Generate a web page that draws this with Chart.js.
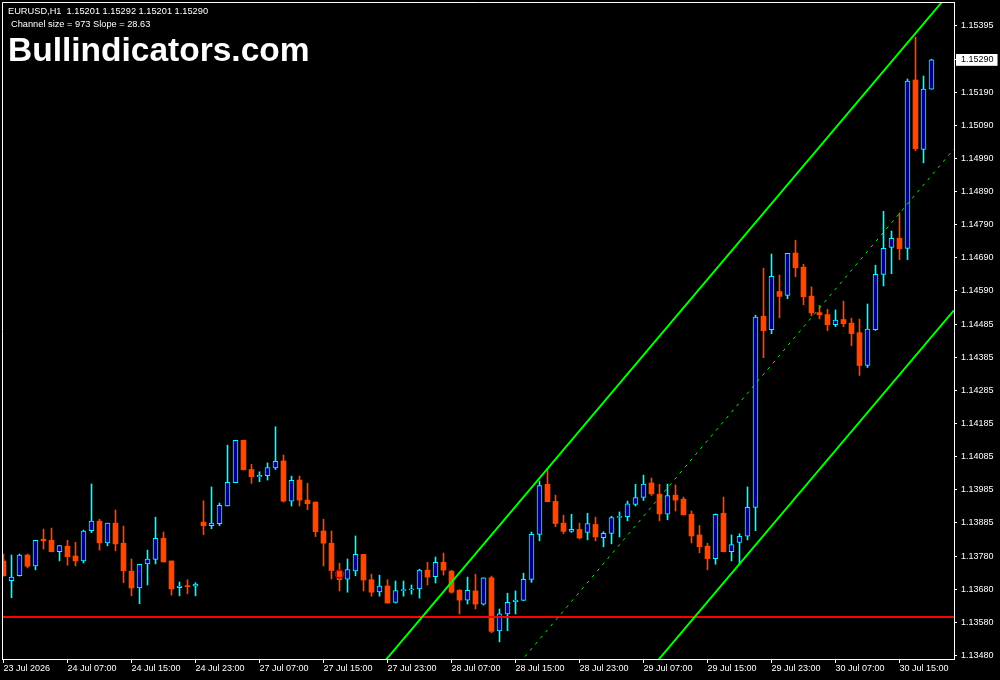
<!DOCTYPE html>
<html>
<head>
<meta charset="utf-8">
<script src="https://cdn.jsdelivr.net/npm/chart.js@4.4.1/dist/chart.umd.min.js"></script>
<style>
html,body{margin:0;padding:0;background:#000;overflow:hidden}
canvas{display:block}
</style>
</head>
<body>
<canvas id="c" width="1000" height="680"></canvas>
<script>
// ---- texts ----
const symbolInfo = "EURUSD,H1  1.15201 1.15292 1.15201 1.15290";
const channelInfo = "Channel size = 973 Slope = 28.63";
const watermark = "Bullindicators.com";

// ---- candles (H1 bars, index 0 = 23 Jul 23:00) ----
const opens = [
1.13767,1.13707,1.13722,1.13785,1.13752,1.13833,1.13830,1.13795,1.13812,1.13782,
1.13767,1.13859,1.13888,1.13822,1.13882,1.13821,1.13736,1.13685,1.13758,1.13772,
1.13836,1.13767,1.13686,1.13692,1.13690,1.13885,1.13874,1.13880,1.13934,1.14005,
1.14134,1.14045,1.14023,1.14026,1.14050,1.14071,1.13949,1.14013,1.13952,1.13946,
1.13858,1.13821,1.13737,1.13712,1.13737,1.13787,1.13710,1.13673,1.13691,1.13641,
1.13677,1.13679,1.13682,1.13739,1.13719,1.13763,1.13736,1.13678,1.13648,1.13676,
1.13636,1.13716,1.13554,1.13606,1.13643,1.13647,1.13711,1.13848,1.14000,1.13948,
1.13882,1.13857,1.13863,1.13854,1.13878,1.13838,1.13851,1.13899,1.13902,1.13939,
1.13960,1.14004,1.13970,1.13909,1.13967,1.13955,1.13909,1.13846,1.13812,1.13774,
1.13912,1.13795,1.13823,1.13842,1.13930,1.14511,1.14470,1.14586,1.14574,1.14703,
1.14660,1.14572,1.14522,1.14516,1.14485,1.14501,1.14490,1.14461,1.14361,1.14470,
1.14638,1.14720,1.14748,1.14717,1.15229,1.15018,1.15201
];
const highs = [
1.13788,1.13785,1.13788,1.13788,1.13830,1.13864,1.13867,1.13814,1.13830,1.13824,
1.13861,1.14001,1.13894,1.13882,1.13922,1.13873,1.13773,1.13757,1.13800,1.13900,
1.13855,1.13767,1.13703,1.13710,1.13701,1.13950,1.13992,1.13943,1.14119,1.14134,
1.14134,1.14061,1.14038,1.14065,1.14175,1.14089,1.14025,1.14025,1.14003,1.13946,
1.13894,1.13858,1.13760,1.13773,1.13843,1.13787,1.13727,1.13724,1.13710,1.13706,
1.13706,1.13694,1.13742,1.13763,1.13779,1.13791,1.13739,1.13680,1.13718,1.13727,
1.13716,1.13721,1.13621,1.13669,1.13676,1.13730,1.13855,1.14010,1.14044,1.13967,
1.13906,1.13909,1.13882,1.13912,1.13900,1.13856,1.13903,1.13916,1.13949,1.14000,
1.14028,1.14019,1.14000,1.14001,1.13998,1.13961,1.13919,1.13875,1.13821,1.13910,
1.13961,1.13846,1.13850,1.13992,1.14514,1.14657,1.14700,1.14636,1.14702,1.14742,
1.14669,1.14600,1.14544,1.14532,1.14530,1.14557,1.14505,1.14502,1.14548,1.14666,
1.14830,1.14770,1.14825,1.15232,1.15360,1.15241,1.15292
];
const lows = [
1.13721,1.13655,1.13721,1.13746,1.13740,1.13803,1.13795,1.13767,1.13754,1.13752,
1.13761,1.13853,1.13800,1.13813,1.13798,1.13701,1.13661,1.13637,1.13694,1.13758,
1.13764,1.13663,1.13661,1.13667,1.13661,1.13847,1.13865,1.13874,1.13934,1.14005,
1.14044,1.14003,1.14008,1.14013,1.14045,1.13946,1.13934,1.13934,1.13923,1.13841,
1.13752,1.13712,1.13676,1.13672,1.13722,1.13676,1.13660,1.13660,1.13639,1.13639,
1.13660,1.13666,1.13654,1.13694,1.13700,1.13724,1.13669,1.13606,1.13636,1.13621,
1.13633,1.13549,1.13521,1.13555,1.13606,1.13647,1.13702,1.13828,1.13947,1.13871,
1.13850,1.13854,1.13834,1.13831,1.13828,1.13810,1.13819,1.13840,1.13889,1.13934,
1.13951,1.13966,1.13889,1.13892,1.13919,1.13907,1.13822,1.13792,1.13740,1.13757,
1.13795,1.13767,1.13757,1.13831,1.13859,1.14385,1.14458,1.14506,1.14564,1.14631,
1.14546,1.14512,1.14503,1.14467,1.14479,1.14479,1.14421,1.14331,1.14355,1.14468,
1.14603,1.14640,1.14683,1.14683,1.15014,1.14977,1.15201
];
const closes = [
1.13722,1.13718,1.13785,1.13751,1.13830,1.13828,1.13795,1.13814,1.13780,1.13767,
1.13858,1.13888,1.13822,1.13882,1.13819,1.13737,1.13685,1.13757,1.13773,1.13836,
1.13764,1.13682,1.13691,1.13689,1.13697,1.13874,1.13882,1.13936,1.14006,1.14134,
1.14044,1.14023,1.14027,1.14051,1.14070,1.13949,1.14012,1.13952,1.13941,1.13856,
1.13821,1.13738,1.13710,1.13741,1.13787,1.13709,1.13672,1.13691,1.13639,1.13677,
1.13680,1.13682,1.13739,1.13718,1.13763,1.13739,1.13672,1.13648,1.13678,1.13636,
1.13716,1.13553,1.13606,1.13641,1.13648,1.13711,1.13848,1.13996,1.13947,1.13881,
1.13857,1.13863,1.13837,1.13881,1.13840,1.13851,1.13899,1.13903,1.13941,1.13960,
1.14001,1.13971,1.13910,1.13966,1.13952,1.13907,1.13843,1.13810,1.13774,1.13909,
1.13795,1.13817,1.13842,1.13930,1.14508,1.14467,1.14632,1.14571,1.14702,1.14658,
1.14570,1.14521,1.14515,1.14485,1.14499,1.14488,1.14458,1.14361,1.14472,1.14638,
1.14717,1.14748,1.14716,1.15226,1.15020,1.15201,1.15290
];

// ---- axes ----
const xTickBars = [0,8,16,24,32,40,48,56,64,72,80,88,96,104,112];
const xTickLabels = ["23 Jul 2026","24 Jul 07:00","24 Jul 15:00","24 Jul 23:00","27 Jul 07:00",
  "27 Jul 15:00","27 Jul 23:00","28 Jul 07:00","28 Jul 15:00","28 Jul 23:00","29 Jul 07:00",
  "29 Jul 15:00","29 Jul 23:00","30 Jul 07:00","30 Jul 15:00"];
const yTickValues = [1.15395,1.15290,1.15190,1.15090,1.14990,1.14890,1.14790,1.14690,1.14590,1.14485,
  1.14385,1.14285,1.14185,1.14085,1.13985,1.13885,1.13780,1.13680,1.13580,1.13480];
const yTickLabels = ["1.15395","1.15290","1.15190","1.15090","1.14990","1.14890","1.14790","1.14690","1.14590","1.14485",
  "1.14385","1.14285","1.14185","1.14085","1.13985","1.13885","1.13780","1.13680","1.13580","1.13480"];
const xRange = [-0.0625, 118.8125];
const yRange = [1.13469, 1.15463];
const lastPrice = 1.15290;

// ---- objects ----
const supportLevel = 1.13597;
const channelBars = [40, 118.8];
const channelUpper = [1.13242, 1.15509];
const channelMiddle = [1.12752, 1.15019];
const channelLower = [1.12262, 1.14529];
const markerBars = [42];
const markerPrices = [1.13727];

// ---- colours ----
const BULL_FILL = '#00008b', BULL_LINE = '#00ffff', BEAR = '#ff4500';
const isBull = i => closes[i] >= opens[i];

const bodyData = opens.map((o, i) => ({x: i, y: [o, closes[i]]}));
const wickData = lows.map((l, i) => ({x: i, y: [l, highs[i]]}));
const pairs = (xs, ys) => xs.map((x, i) => ({x, y: ys[i]}));

const FONT = '"Liberation Sans", Arial, sans-serif';

const frameAndText = {
  id: 'frameAndText',
  afterDraw(chart) {
    const ctx = chart.ctx, a = chart.chartArea;
    ctx.save();
    ctx.strokeStyle = '#ffffff';
    ctx.lineWidth = 1;
    ctx.beginPath();
    ctx.moveTo(a.left - 0.5, a.bottom + 1);
    ctx.lineTo(a.left - 0.5, a.top - 0.5);
    ctx.lineTo(a.right + 1, a.top - 0.5);
    ctx.stroke();
    ctx.fillStyle = '#ffffff';
    ctx.textBaseline = 'alphabetic';
    ctx.font = '9.25px ' + FONT;
    ctx.fillText(symbolInfo, 8, 14);
    ctx.fillText(channelInfo, 11, 27);
    ctx.font = 'bold 33.5px ' + FONT;
    ctx.fillText(watermark, 8, 61);
    ctx.restore();
  }
};

new Chart(document.getElementById('c'), {
  type: 'bar',
  data: {
    datasets: [
      {type:'line', label:'marker', data: pairs(markerBars, markerPrices), showLine:false,
       pointRadius:4, pointBorderWidth:1.5, pointBorderColor:'#c00000', pointBackgroundColor:'rgba(0,0,0,0)',
       order:0, clip:0},
      {type:'line', label:'upper', data: pairs(channelBars, channelUpper), borderColor:'#00ff00',
       borderWidth:2, pointRadius:0, tension:0, order:0, clip:0},
      {type:'line', label:'middle', data: pairs(channelBars, channelMiddle), borderColor:'#00ff00',
       borderWidth:1, borderDash:[3,5], pointRadius:0, tension:0, order:0, clip:0},
      {type:'line', label:'lower', data: pairs(channelBars, channelLower), borderColor:'#00ff00',
       borderWidth:2, pointRadius:0, tension:0, order:0, clip:0},
      {type:'line', label:'level', data: pairs(xRange, [supportLevel, supportLevel]), borderColor:'#ff0000',
       borderWidth:2, pointRadius:0, tension:0, order:0, clip:0},
      {type:'bar', label:'bodies', data: bodyData, grouped:false, barThickness:5, minBarLength:1,
       backgroundColor: c => isBull(c.dataIndex) ? BULL_FILL : BEAR,
       borderColor: c => isBull(c.dataIndex) ? BULL_LINE : BEAR,
       borderWidth: c => isBull(c.dataIndex) ? 1 : 0,
       borderSkipped:false, order:1, clip:0},
      {type:'bar', label:'wicks', data: wickData, grouped:false, barThickness:1,
       backgroundColor: c => isBull(c.dataIndex) ? BULL_LINE : BEAR,
       borderWidth:0, order:2, clip:0}
    ]
  },
  options: {
    responsive:false,
    maintainAspectRatio:false,
    devicePixelRatio:1,
    animation:false,
    events:[],
    layout:{autoPadding:false, padding:{left:3, top:3, right:0, bottom:0}},
    plugins:{legend:{display:false}, tooltip:{enabled:false}},
    scales:{
      x:{
        type:'linear', position:'bottom', min:xRange[0], max:xRange[1], offset:false,
        afterBuildTicks: ax => { ax.ticks = xTickBars.map(v => ({value:v})); },
        afterFit: ax => { ax.height = 21; ax.paddingLeft = 0; ax.paddingRight = 0; },
        grid:{display:true, drawOnChartArea:false, drawTicks:true, tickLength:4, color:'#ffffff', offset:false},
        border:{display:true, color:'#ffffff', width:1},
        ticks:{autoSkip:false, maxRotation:0, minRotation:0, align:'start', padding:0,
          color:'#ffffff', font:{family:FONT, size:9},
          callback:(v, i) => xTickLabels[i]}
      },
      y:{
        type:'linear', position:'right', min:yRange[0], max:yRange[1],
        afterBuildTicks: ax => { ax.ticks = yTickValues.map(v => ({value:v})); },
        afterFit: ax => { ax.width = 46; ax.paddingTop = 0; ax.paddingBottom = 0; },
        grid:{display:true, drawOnChartArea:false, drawTicks:true, tickLength:3, color:'#ffffff'},
        border:{display:true, color:'#ffffff', width:1},
        ticks:{autoSkip:false, padding:4, font:{family:FONT, size:9},
          color: c => (c.tick && c.tick.value === lastPrice) ? '#000000' : '#ffffff',
          showLabelBackdrop: c => !!(c.tick && c.tick.value === lastPrice),
          backdropColor:'#ffffff',
          backdropPadding:{left:5, right:4, top:0.5, bottom:0.5},
          callback:(v, i) => yTickLabels[i]}
      }
    }
  },
  plugins:[frameAndText]
});
</script>
</body>
</html>
